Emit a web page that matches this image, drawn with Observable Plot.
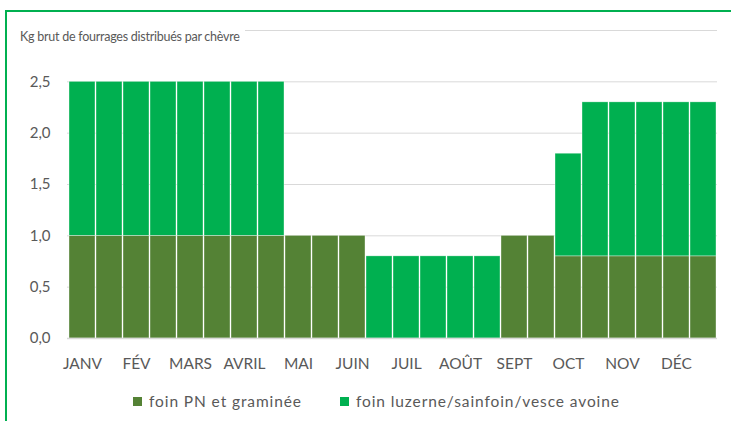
<!DOCTYPE html>
<html>
<head>
<meta charset="utf-8">
<script src="https://cdn.jsdelivr.net/npm/d3@7"></script>
<script src="https://cdn.jsdelivr.net/npm/@observablehq/plot@0.6"></script>
<style>
  html, body { margin: 0; padding: 0; background: #fff; }
  body { width: 731px; height: 421px; position: relative; overflow: hidden; font-family: Lato, "Open Sans", sans-serif; }
  #frame { position: absolute; left: 5px; top: 10px; width: 800px; height: 500px; border-top: 2px solid #00B050; border-left: 2px solid #00B050; box-sizing: border-box; }
  #chart { position: absolute; left: 0; top: 0; }
  #title { position: absolute; left: 20px; top: 28px; font-size: 12.5px; letter-spacing: -0.25px; color: #595959; background: #fff; padding-right: 5px; line-height: 17px; white-space: nowrap; }
  #legend { position: absolute; left: 133px; top: 392px; font-size: 15.5px; letter-spacing: 0.9px; color: #595959; display: flex; align-items: center; white-space: nowrap; line-height: 18px; }
  #legend .sw { display: inline-block; width: 9px; height: 9px; margin-right: 7px; }
  #legend .item { display: flex; align-items: center; }
  #legend .item + .item { margin-left: 38px; }
</style>
</head>
<body>
<div id="frame"></div>
<div id="chart"></div>
<div id="title">Kg brut de fourrages distribués par chèvre</div>
<div id="legend"></div>
<script>
const months = ["JANV","FÉV","MARS","AVRIL","MAI","JUIN","JUIL","AOÛT","SEPT","OCT","NOV","DÉC"];
const seriesNames = ["foin PN et graminée", "foin luzerne/sainfoin/vesce avoine"];
const seriesColors = ["#548235", "#00B050"];
// two values per month (1st and 2nd half)
const foinPN =      [1,1, 1,1, 1,1, 1,1, 1,1, 1,0, 0,0, 0,0, 1,1, 0.8,0.8, 0.8,0.8, 0.8,0.8];
const foinLuzerne = [1.5,1.5, 1.5,1.5, 1.5,1.5, 1.5,1.5, 0,0, 0,0.8, 0.8,0.8, 0.8,0.8, 0,0, 1.0,1.5, 1.5,1.5, 1.5,1.5];
const yTicks = [0, 0.5, 1, 1.5, 2, 2.5];
const gridTicks = [0.5, 1, 1.5, 2, 2.5, 3];

const idx = d3.range(foinPN.length);
const rows = [];
idx.forEach(i => { if (foinPN[i] > 0) rows.push({i, s: seriesNames[0], v: foinPN[i]}); });
idx.forEach(i => { if (foinLuzerne[i] > 0) rows.push({i, s: seriesNames[1], v: foinLuzerne[i]}); });

const fmt = d => d.toFixed(1).replace(".", ",");

const chart = Plot.plot({
  width: 731,
  height: 421,
  marginLeft: 67,
  marginRight: 14,
  marginTop: 30,
  marginBottom: 83,
  style: { fontFamily: "Lato, 'Open Sans', sans-serif", color: "#595959", background: "transparent" },
  x: { type: "band", domain: idx, padding: 0.05, paddingOuter: 0.025, label: null },
  y: { domain: [0, 3], label: null },
  color: { domain: seriesNames, range: seriesColors },
  marks: [
    Plot.ruleY(gridTicks, { stroke: "#d9d9d9", strokeWidth: 1 }),
    Plot.barY(rows, { x: "i", y: "v", fill: "s", stroke: "#ffffff", strokeWidth: 0.6, strokeOpacity: 0.6 }),
    Plot.ruleY([0], { stroke: "#d9d9d9", strokeWidth: 1.5 }),
    Plot.axisY({ ticks: yTicks, tickSize: 0, tickPadding: 17, tickFormat: fmt, fontSize: 15, label: null, style: { letterSpacing: "0.4px" } }),
    Plot.axisX({ ticks: idx.filter(i => i % 2 === 0), tickSize: 0, tickPadding: 19, tickFormat: i => months[i / 2], fontSize: 15.5, label: null, style: { letterSpacing: "0.8px" } })
  ]
});
document.getElementById("chart").appendChild(chart);

const legend = document.getElementById("legend");
seriesNames.forEach((n, k) => {
  const it = document.createElement("span");
  it.className = "item";
  const sw = document.createElement("span");
  sw.className = "sw";
  sw.style.background = seriesColors[k];
  it.appendChild(sw);
  it.appendChild(document.createTextNode(n));
  legend.appendChild(it);
});
</script>
</body>
</html>
